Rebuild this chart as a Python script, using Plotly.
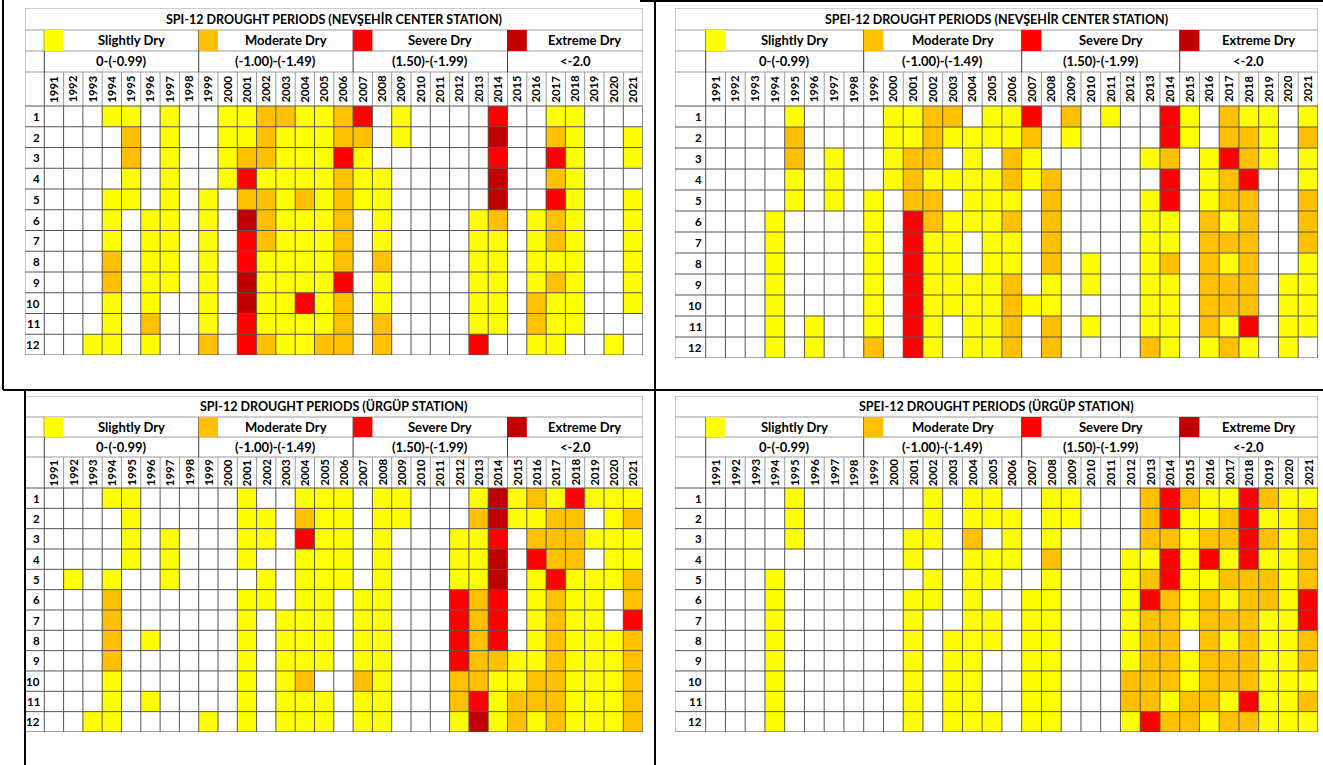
import plotly.graph_objects as go

# ---------------------------------------------------------------------------
# Data
# ---------------------------------------------------------------------------
years = list(range(1991, 2022))
months = list(range(1, 13))

class_names = ["Slightly Dry", "Moderate Dry", "Severe Dry", "Extreme Dry"]
class_ranges = ["0-(-0.99)", "(-1.00)-(-1.49)", "(1.50)-(-1.99)", "<-2.0"]
class_colors = ["#FFFF00", "#FFC000", "#FF0000", "#C00000"]
group_start_years = [1991, 1999, 2007, 2015]
group_end_years = [1998, 2006, 2014, 2021]

titles = [
    "SPI-12 DROUGHT PERIODS (NEVŞEHİR CENTER STATION)",
    "SPEI-12 DROUGHT PERIODS (NEVŞEHİR CENTER STATION)",
    "SPI-12 DROUGHT PERIODS (ÜRGÜP STATION)",
    "SPEI-12 DROUGHT PERIODS (ÜRGÜP STATION)",
]

# Drought class per month (rows 1..12) and year (1991..2021):
# 0 = none, 1 = slightly, 2 = moderate, 3 = severe, 4 = extreme
spi_nevsehir = [
    [0,0,0,1,1,0,1,0, 0,1,1,2,2,1,1,2, 3,0,1,0,0,0,0,3, 0,0,1,1,0,0,0],
    [0,0,0,0,2,0,1,0, 0,1,1,2,1,1,1,2, 2,0,1,0,0,0,0,4, 0,0,2,1,0,0,1],
    [0,0,0,0,2,0,1,0, 0,1,2,2,1,1,1,3, 1,0,0,0,0,0,0,3, 0,0,3,1,0,0,1],
    [0,0,0,0,1,0,1,0, 0,1,3,1,1,1,1,2, 1,1,0,0,0,0,0,4, 0,0,2,1,0,0,0],
    [0,0,0,1,1,0,1,0, 1,0,2,2,1,2,1,2, 1,1,0,0,0,0,0,4, 0,0,3,1,0,0,1],
    [0,0,0,1,0,1,1,0, 1,0,4,2,1,1,1,2, 0,1,0,0,0,0,1,2, 0,1,2,1,0,0,1],
    [0,0,0,1,0,1,1,0, 1,0,3,2,1,1,1,2, 0,1,0,0,0,0,1,1, 0,1,2,1,0,0,1],
    [0,0,0,2,0,1,1,0, 1,0,3,1,1,1,1,2, 0,2,0,0,0,0,1,1, 0,1,1,1,0,0,1],
    [0,0,0,2,0,1,1,0, 1,0,4,1,1,1,1,3, 0,1,0,0,0,0,1,1, 0,1,2,1,0,0,1],
    [0,0,0,1,0,1,0,0, 1,0,4,1,1,3,1,2, 0,1,0,0,0,0,1,1, 0,2,1,1,0,0,1],
    [0,0,0,1,0,2,0,0, 1,0,3,1,1,1,1,2, 0,2,0,0,0,0,1,1, 0,2,1,1,0,0,0],
    [0,0,1,1,0,1,0,0, 2,0,3,2,1,1,2,2, 0,2,0,0,0,0,3,0, 0,1,1,0,0,1,0],
]

spei_nevsehir = [
    [0,0,0,0,1,0,0,0, 0,1,1,2,2,0,1,1, 3,0,2,0,1,0,0,3, 1,0,2,1,1,0,1],
    [0,0,0,0,2,0,0,0, 0,1,1,2,1,1,1,1, 2,0,1,0,0,0,0,3, 1,0,2,2,1,0,2],
    [0,0,0,0,2,0,1,0, 0,1,2,2,0,1,0,2, 1,0,0,0,0,0,1,2, 0,1,3,2,1,0,1],
    [0,0,0,0,1,0,1,0, 0,1,2,1,1,1,1,2, 1,2,0,0,0,0,0,3, 0,1,2,3,0,0,1],
    [0,0,0,0,1,0,1,0, 1,0,2,2,0,1,1,1, 0,2,0,0,0,0,1,3, 0,1,2,2,0,0,2],
    [0,0,0,1,0,0,0,0, 1,0,3,2,1,1,1,2, 0,2,0,0,0,0,1,1, 0,2,1,2,0,0,2],
    [0,0,0,1,0,0,0,0, 1,0,3,1,1,0,1,1, 0,2,0,0,0,0,1,1, 0,2,2,2,0,0,2],
    [0,0,0,1,0,0,0,0, 1,0,3,1,1,0,1,1, 0,2,0,1,0,0,1,2, 0,2,1,2,0,0,1],
    [0,0,0,1,0,0,0,0, 1,0,3,1,1,1,1,2, 0,1,0,1,0,0,1,1, 0,2,2,2,0,1,1],
    [0,0,0,1,0,0,0,0, 1,0,3,1,1,1,1,2, 1,1,0,0,0,0,1,1, 0,2,2,2,0,1,1],
    [0,0,0,1,0,1,0,0, 1,0,3,1,0,1,1,2, 0,2,0,1,0,0,1,1, 0,2,1,3,0,1,1],
    [0,0,0,1,0,1,0,0, 2,0,3,1,0,1,1,2, 0,2,0,0,0,0,2,1, 0,1,2,1,0,1,0],
]

spi_urgup = [
    [0,0,0,1,1,0,0,0, 0,0,1,0,0,1,1,1, 0,1,1,0,0,0,1,4, 1,2,1,3,1,1,1],
    [0,0,0,0,1,0,0,0, 0,0,1,1,0,2,1,1, 0,1,1,0,0,0,2,4, 1,1,2,2,0,1,2],
    [0,0,0,0,1,0,1,0, 0,0,1,1,0,3,1,1, 0,1,0,0,0,1,1,3, 0,2,2,2,1,1,1],
    [0,0,0,0,1,0,1,0, 0,0,1,0,0,1,1,1, 0,1,0,0,0,1,1,4, 0,3,2,2,0,1,1],
    [0,1,0,1,0,0,1,0, 0,0,0,1,0,1,1,1, 0,1,0,0,0,1,1,4, 0,1,3,1,1,1,2],
    [0,0,0,2,0,0,0,0, 0,0,1,1,0,1,1,0, 1,1,0,0,0,3,2,3, 0,1,2,1,1,0,2],
    [0,0,0,2,0,0,0,0, 0,0,1,0,1,1,1,0, 1,1,0,0,0,3,2,3, 0,1,2,1,1,0,3],
    [0,0,0,2,0,1,0,0, 0,0,1,0,1,1,1,0, 1,1,0,0,0,3,2,3, 0,1,2,1,1,1,2],
    [0,0,0,2,0,0,0,0, 0,0,1,0,1,1,1,0, 1,1,0,0,0,3,2,2, 1,1,2,1,1,1,2],
    [0,0,0,1,0,0,0,0, 0,0,1,0,1,2,0,0, 2,1,0,0,0,2,2,1, 1,2,2,1,1,1,2],
    [0,0,0,1,0,1,0,0, 0,0,1,0,1,1,1,0, 1,1,0,0,0,2,3,1, 2,2,2,1,1,1,2],
    [0,0,1,1,0,0,0,0, 1,0,1,0,1,1,1,0, 1,1,0,0,0,1,4,1, 2,1,2,1,1,1,2],
]

spei_urgup = [
    [0,0,0,0,1,0,0,0, 0,0,0,1,0,1,1,0, 0,1,1,0,0,0,2,3, 2,1,1,3,2,1,1],
    [0,0,0,0,1,0,0,0, 0,0,0,1,0,1,1,1, 0,1,1,0,0,0,2,3, 1,1,2,3,1,1,2],
    [0,0,0,0,1,0,0,0, 0,0,1,1,0,2,0,1, 0,1,0,0,0,0,2,2, 1,2,2,3,2,1,2],
    [0,0,0,0,0,0,0,0, 0,0,1,0,0,1,1,1, 0,2,0,0,0,1,1,3, 1,3,1,3,1,1,2],
    [0,0,0,1,0,0,0,0, 0,0,0,1,0,1,1,0, 0,1,0,0,0,1,2,3, 1,1,2,2,2,1,2],
    [0,0,0,1,0,0,0,0, 0,0,1,1,0,1,0,0, 1,1,0,0,0,1,3,2, 1,2,1,2,2,1,3],
    [0,0,0,1,0,0,0,0, 0,0,1,0,0,1,1,0, 1,1,0,0,0,1,2,2, 1,2,2,2,1,1,3],
    [0,0,0,1,0,0,0,0, 0,0,1,0,1,1,1,0, 1,1,0,0,0,1,2,2, 0,2,1,2,1,1,2],
    [0,0,0,1,0,0,0,0, 0,0,1,0,1,1,0,0, 1,1,0,0,0,1,2,2, 1,2,2,2,1,1,2],
    [0,0,0,1,0,0,0,0, 0,0,1,0,1,1,0,0, 1,1,0,0,0,2,2,2, 1,2,2,2,1,1,1],
    [0,0,0,1,0,0,0,0, 0,0,1,0,1,1,0,0, 1,1,0,0,0,2,2,1, 2,2,1,3,1,1,2],
    [0,0,0,1,0,0,0,0, 0,0,1,0,1,1,1,0, 1,1,0,0,0,1,3,2, 2,1,2,2,1,1,1],
]

panel_data = [spi_nevsehir, spei_nevsehir, spi_urgup, spei_urgup]

# ---------------------------------------------------------------------------
# Page geometry (pixels)
# ---------------------------------------------------------------------------
W, H = 1323, 765
FONT = "Lato, 'Open Sans', sans-serif"

# left edge, label-column width, year-column width, table top,
# header row heights (title, legend, range, years), month row height
panel_geom = [
    dict(left=25, label=19.3, col=19.3, top=8, hdr=[22, 21, 21, 34], row=20.75),
    dict(left=675, label=30.7, col=19.75, top=8, hdr=[22, 21, 21, 34], row=21.0),
    dict(left=25, label=19.3, col=19.3, top=396, hdr=[21, 20, 20, 31], row=20.33),
    dict(left=675, label=30.7, col=19.75, top=396, hdr=[21, 20, 20, 31], row=20.33),
]

GRID = "#555555"
HEAD = "#9a9a9a"
SEP = "#3a3a3a"

cell_colors = ["#FFFFFF"] + class_colors
colorscale = []
for i, c in enumerate(cell_colors):
    colorscale.append([i / len(cell_colors), c])
    colorscale.append([(i + 1) / len(cell_colors), c])

fig = go.Figure()
layout_axes = {}
shapes = []
annotations = []


def segments_trace(segs, color, width, xa, ya):
    xs, ys = [], []
    for x0, y0, x1, y1 in segs:
        xs += [x0, x1, None]
        ys += [y0, y1, None]
    return go.Scatter(x=xs, y=ys, mode="lines", line=dict(color=color, width=width),
                      xaxis=xa, yaxis=ya, hoverinfo="skip", showlegend=False)


for k, (g, data, title) in enumerate(zip(panel_geom, panel_data, titles), start=1):
    sfx = "" if k == 1 else str(k)
    xa, ya = "x" + sfx, "y" + sfx

    lab_units = g["label"] / g["col"]
    x_left = years[0] - 0.5 - lab_units
    x_right = years[-1] + 0.5
    hdr_units = [h / g["row"] for h in g["hdr"]]
    y_data_top = months[0] - 0.5
    y_bottom = months[-1] + 0.5
    y_top = y_data_top - sum(hdr_units)
    bounds = [y_top]
    for h in hdr_units:
        bounds.append(bounds[-1] + h)
    # bounds: title top, legend top, range top, years top, data top

    width_px = g["label"] + g["col"] * len(years)
    height_px = sum(g["hdr"]) + g["row"] * len(months)
    layout_axes["xaxis" + sfx] = dict(
        domain=[g["left"] / W, (g["left"] + width_px) / W],
        range=[x_left, x_right], visible=False, fixedrange=True, anchor=ya)
    layout_axes["yaxis" + sfx] = dict(
        domain=[1 - (g["top"] + height_px) / H, 1 - g["top"] / H],
        range=[y_bottom, y_top], visible=False, fixedrange=True, anchor=xa)

    # drought cells
    fig.add_trace(go.Heatmap(
        z=data, x=years, y=months, zmin=-0.5, zmax=4.5, colorscale=colorscale,
        showscale=False, xaxis=xa, yaxis=ya, hoverinfo="x+y+z"))

    # header borders
    head_segs = [
        (x_left, bounds[0], x_right, bounds[0]),
        (x_left, bounds[0], x_left, y_bottom),
        (x_right, bounds[0], x_right, y_bottom),
        (x_left, bounds[1], x_right, bounds[1]),
        (x_left, bounds[2], x_right, bounds[2]),
        (x_left, bounds[3], x_right, bounds[3]),
    ]
    for yr in years[1:]:
        head_segs.append((yr - 0.5, bounds[3], yr - 0.5, bounds[4]))
    fig.add_trace(segments_trace(head_segs, HEAD, 1, xa, ya))

    sep_segs = [(years[0] - 0.5, bounds[1], years[0] - 0.5, bounds[3])]
    for ge in group_end_years[:-1]:
        sep_segs.append((ge + 0.5, bounds[1], ge + 0.5, bounds[3]))
    fig.add_trace(segments_trace(sep_segs, SEP, 1, xa, ya))

    # month/year grid
    grid_segs = [(years[0] - 0.5, bounds[3], years[0] - 0.5, y_bottom)]
    for yr in years:
        grid_segs.append((yr + 0.5, bounds[4], yr + 0.5, y_bottom))
    for m in [months[0] - 1] + months:
        grid_segs.append((x_left, m + 0.5, x_right, m + 0.5))
    fig.add_trace(segments_trace(grid_segs, GRID, 1, xa, ya))

    # title
    annotations.append(dict(
        x=(x_left + x_right) / 2, y=(bounds[0] + bounds[1]) / 2, xref=xa, yref=ya,
        text="<b>%s</b>" % title, showarrow=False, font=dict(size=12.5, color="#000")))

    # legend swatches, class names and ranges
    for gs, ge, name, rng, col in zip(group_start_years, group_end_years,
                                      class_names, class_ranges, class_colors):
        shapes.append(dict(type="rect", xref=xa, yref=ya, x0=gs - 0.5, x1=gs + 0.5,
                           y0=bounds[1], y1=bounds[2], fillcolor=col,
                           line=dict(width=0), layer="above"))
        annotations.append(dict(
            x=(gs + 0.5 + ge + 0.5) / 2, y=(bounds[1] + bounds[2]) / 2, xref=xa, yref=ya,
            text="<b>%s</b>" % name, showarrow=False, font=dict(size=13, color="#000")))
        annotations.append(dict(
            x=(gs - 0.5 + ge + 0.5) / 2, y=(bounds[2] + bounds[3]) / 2, xref=xa, yref=ya,
            text="<b>%s</b>" % rng, showarrow=False, font=dict(size=13, color="#000")))

    # year labels
    for yr in years:
        annotations.append(dict(
            x=yr, y=(bounds[3] + bounds[4]) / 2, xref=xa, yref=ya, text="<b>%d</b>" % yr,
            textangle=-90, showarrow=False, font=dict(size=11.5, color="#000")))

    # month labels
    for m in months:
        annotations.append(dict(
            x=years[0] - 0.5 - 0.1, y=m, xref=xa, yref=ya, text="<b>%d</b>" % m,
            xanchor="right", showarrow=False, font=dict(size=11.5, color="#000")))

# page frame lines
frame = [
    (3, 0, 3, 390),
    (3, 390, W, 390),
    (655, 0, 655, H),
    (25, 390, 25, H),
    (640, 1, W, 1),
]
for x0, y0, x1, y1 in frame:
    shapes.append(dict(type="line", xref="paper", yref="paper",
                       x0=x0 / W, x1=x1 / W, y0=1 - y0 / H, y1=1 - y1 / H,
                       line=dict(color="#000000", width=2)))

fig.update_layout(
    width=W, height=H, margin=dict(l=0, r=0, t=0, b=0),
    paper_bgcolor="#FFFFFF", plot_bgcolor="#FFFFFF",
    font=dict(family=FONT, color="#000"),
    shapes=shapes, annotations=annotations, showlegend=False,
    **layout_axes,
)

fig.write_html("out.html", config={"displayModeBar": False})
